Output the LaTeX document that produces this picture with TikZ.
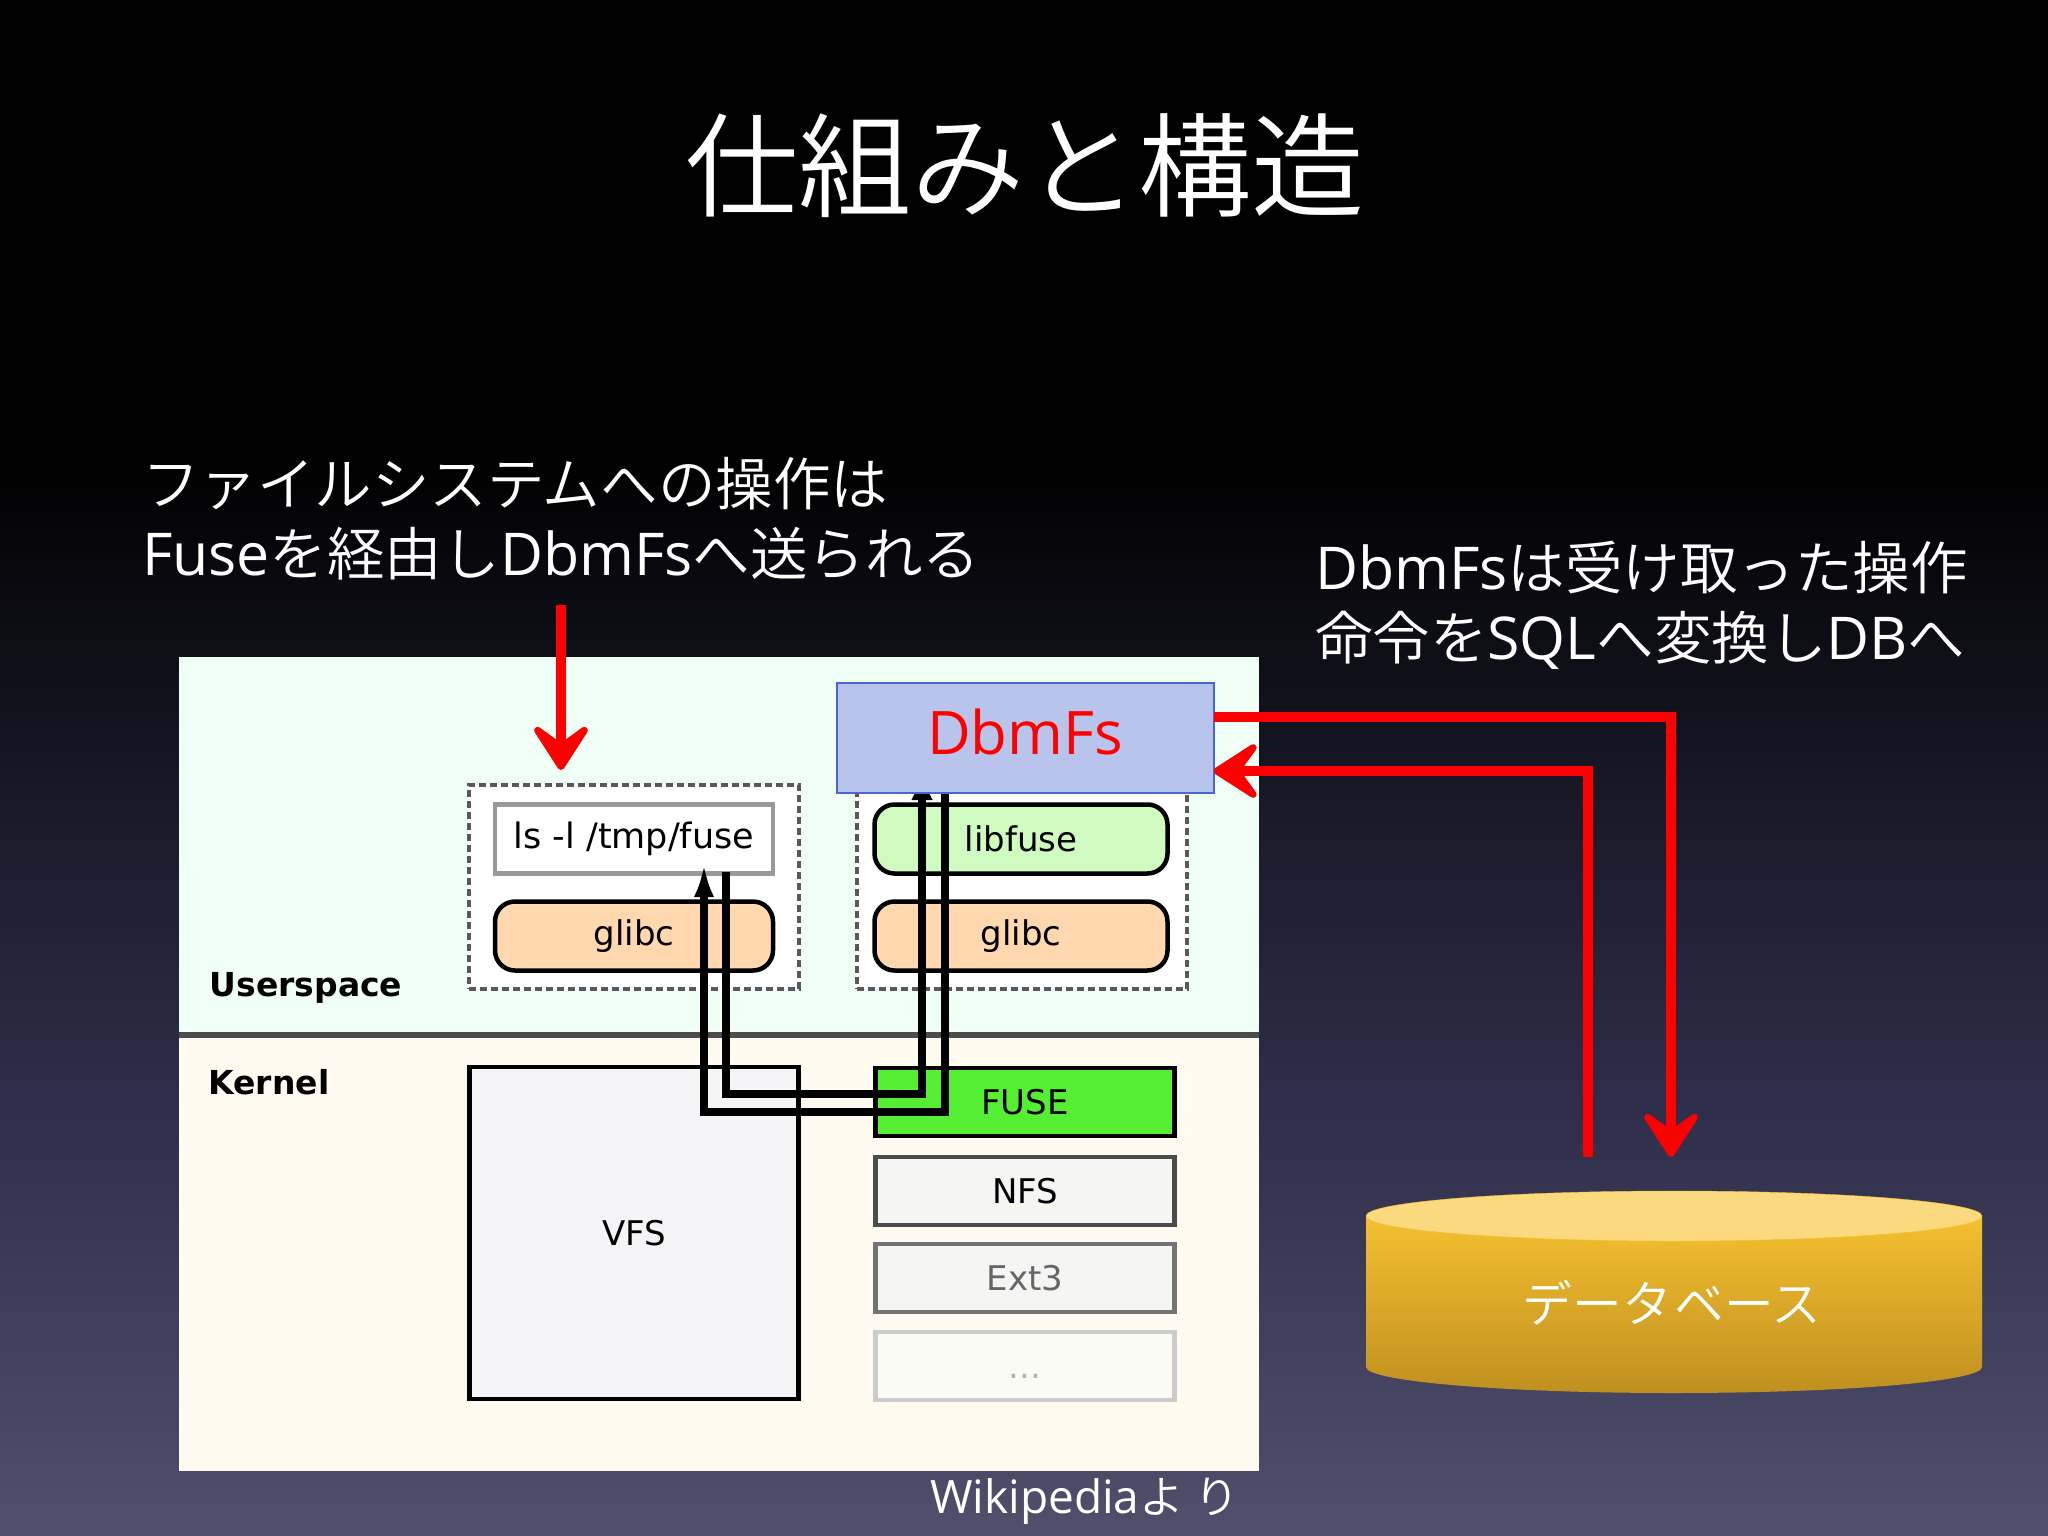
\documentclass[tikz,border=0pt]{standalone}
\usepackage{fontspec}
\setmainfont{Open Sans}
\newfontfamily\jpfont[Scale=0.975]{Noto Sans CJK JP DemiLight}
\newfontfamily\boxfont{DejaVu Sans}
\usetikzlibrary{arrows.meta}
\definecolor{panelup}{HTML}{EFFFF6}
\definecolor{paneldown}{HTML}{FFFBF0}
\definecolor{slidemiddle}{HTML}{2E2E4A}
\definecolor{slidebottom}{HTML}{50506C}
\definecolor{orangebox}{HTML}{FFD8B0}
\definecolor{greenbox}{HTML}{D0FBC0}
\definecolor{fusegreen}{HTML}{55EE33}
\definecolor{greybox}{HTML}{F5F5F3}
\definecolor{vfsbox}{HTML}{F5F5F8}
\definecolor{morebox}{HTML}{FBFBF5}
\definecolor{dbmblue}{HTML}{B8C4EC}
\definecolor{dbmedge}{HTML}{4A66D0}
\definecolor{cyltop}{HTML}{FBD97F}
\definecolor{cylhigh}{HTML}{F5C030}
\definecolor{cyllow}{HTML}{C09020}
\begin{document}
\begin{tikzpicture}[x=1pt, y=-1pt,
    every node/.style = {inner sep=0pt, outer sep=0pt, align=left},
    slidetext/.style = {text=white, font=\fontsize{59}{70}\selectfont, anchor=west},
    boldlabel/.style = {font=\fontsize{33}{40}\boxfont\bfseries, text=black},
    groupbox/.style = {draw=black!65, dash pattern=on 7pt off 4pt, line width=3.5pt, fill=white, minimum width=330pt, minimum height=204pt},
    fsbox/.style = {rectangle, draw, line width=4.5pt, font=\fontsize{34}{40}\boxfont},
    pill/.style = {fsbox, rounded corners=20pt, minimum width=278pt, minimum height=69pt},
    kbox/.style = {fsbox, minimum width=299pt, minimum height=68pt, fill=greybox},
    redline/.style = {draw=red, line width=10pt, -{Stealth[length=56pt, width=72pt, inset=26pt, line width=7pt, round]}},
    wire/.style = {draw=black, line width=8pt}]
    % slide background
    \fill[black] (0,0) rectangle (2048,451);
    \shade[top color=black, bottom color=slidemiddle] (0,450) rectangle (2048,1101);
    \shade[top color=slidemiddle, bottom color=slidebottom] (0,1100) rectangle (2048,1536);
    \useasboundingbox (0,0) rectangle (2048,1536);

    \node (title) at (1025,166) [text=white, font=\fontsize{116}{120}\jpfont] {仕組みと構造};
    \node (leftnote) at (142,519) [slidetext] {{\jpfont ファイルシステムへの操作は}\\Fuse{\jpfont を経由し}DbmFs{\jpfont へ送られる}};
    \node (rightnote) at (1315,605) [slidetext] {DbmFs{\jpfont は受け取った操作}\\{\jpfont 命令を}SQL{\jpfont へ変換し}DB{\jpfont へ}};

    % wikipedia picture
    \fill[panelup] (179,657) rectangle (1259,1035);
    \fill[paneldown] (179,1035) rectangle (1259,1471);
    \draw[line width=6pt, black!70] (179,1035) -- (1259,1035);
    \node (userspace) at (306,988) [boldlabel] {Userspace};
    \node (kernel) at (269,1082) [boldlabel] {Kernel};
    \node (appgroup) at (634,887) [groupbox] {};
    \node (fusegroup) at (1022,887) [groupbox] {};
    \node (lscmd) at (634,839) [fsbox, draw=black!40, fill=white, minimum width=278pt, minimum height=69pt, font=\fontsize{35}{40}\boxfont] {ls -l /tmp/fuse};
    \node (glibcleft) at (634,936) [pill, fill=orangebox] {glibc};
    \node (libfuse) at (1021,839) [pill, minimum width=293pt, fill=greenbox] {libfuse};
    \node (glibcright) at (1021,936) [pill, minimum width=293pt, fill=orangebox] {glibc};
    \node (vfs) at (634,1233) [fsbox, fill=vfsbox, minimum width=329pt, minimum height=332pt] {VFS};
    \node (fuse) at (1025,1102) [kbox, fill=fusegreen] {FUSE};
    \node (nfs) at (1025,1191) [kbox, draw=black!70] {NFS};
    \node (extthree) at (1025,1278) [kbox, draw=black!55, text=black!60] {Ext3};
    \node (more) at (1025,1366) [kbox, draw=black!20, fill=morebox, text=black!30] {\raisebox{-12pt}[0pt][0pt]{...}};

    % path through fuse
    \coordinate (upleft) at (704,863);
    \coordinate (downleft) at (726,872);
    \coordinate (cornera) at (704,1112);
    \coordinate (cornerb) at (945,1112);
    \coordinate (cornerc) at (726,1094);
    \coordinate (cornerd) at (922,1094);
    \coordinate (endb) at (945,790);
    \coordinate (endd) at (922,772);
    \draw[wire, {Latex[length=34pt, width=20pt]}-] (upleft) -- (cornera) -- (cornerb) -- (endb);
    \draw[wire, -{Latex[length=28pt, width=22pt]}] (downleft) -- (cornerc) -- (cornerd) -- (endd);

    \node (dbmfs) at (1025,738) [rectangle, draw=dbmedge, line width=2pt, fill=dbmblue, text=red, font=\fontsize{60}{70}\selectfont, minimum width=377pt, minimum height=110pt] {\raisebox{12pt}{DbmFs}};

    % database
    \path[top color=cylhigh, bottom color=cyllow]
        (1366,1216) -- (1366,1367) arc[start angle=180, end angle=360, x radius=308, y radius=-26] -- (1982,1216) -- cycle;
    \draw[fill=cyltop, draw=cylhigh] (1674,1216) ellipse [x radius=308, y radius=25];
    \node (database) at (1672,1303) [text=white, font=\fontsize{51}{60}\jpfont] {データ\hspace{3pt}ベース};
    \node (wikinote) at (930,1501) [text=white, anchor=west, font=\fontsize{46}{50}\selectfont] {Wikipedia{\jpfont よ\hspace{10pt}り}};

    % red arrows
    \coordinate (noteend) at (561,605);
    \coordinate (tipleft) at (561,770);
    \coordinate (bendout) at (1671,717);
    \coordinate (tipdb) at (1671,1157);
    \coordinate (dbstart) at (1588,1157);
    \coordinate (bendin) at (1588,771);
    \draw[redline] (noteend) -- (tipleft);
    \draw[redline] (dbmfs.east |- bendout) -- (bendout) -- (tipdb);
    \draw[redline] (dbstart) -- (bendin) -- (dbmfs.east |- bendin);
\end{tikzpicture}
\end{document}
